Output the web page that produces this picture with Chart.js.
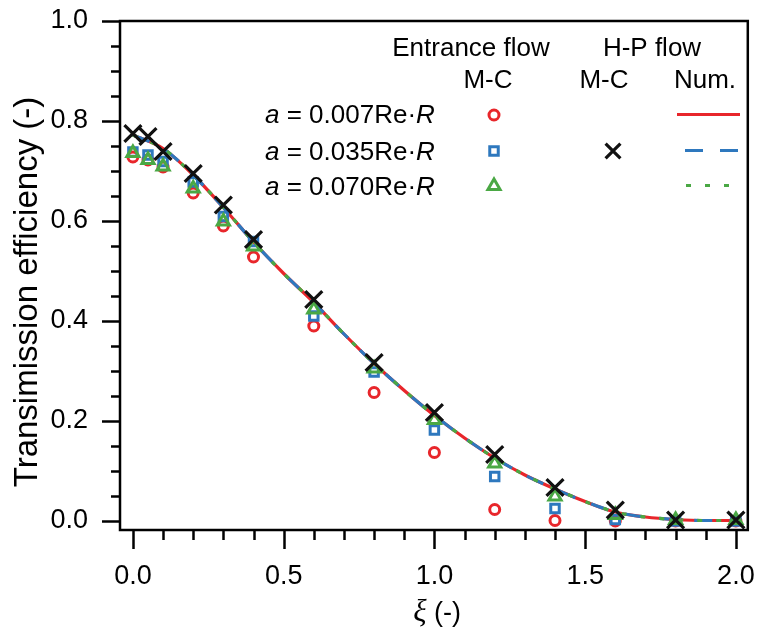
<!DOCTYPE html>
<html>
<head>
<meta charset="utf-8">
<script src="https://cdn.jsdelivr.net/npm/chart.js@4.4.1/dist/chart.umd.min.js"></script>
<style>
  html, body { margin: 0; padding: 0; background: #fff; }
  #grafico { display: block; }
</style>
</head>
<body>
<canvas id="grafico" width="763" height="632"></canvas>
<script>
// pontos Monte-Carlo (xi)
var xMC = [0, 0.05, 0.1, 0.2, 0.3, 0.4, 0.6, 0.8, 1.0, 1.2, 1.4, 1.6, 1.8, 2.0];
var mcEntrada007 = [0.728, 0.722, 0.708, 0.656, 0.590, 0.528, 0.390, 0.257, 0.137, 0.023, 0.001, 0.0, 0.0, 0.0];
var mcEntrada035 = [0.738, 0.732, 0.719, 0.678, 0.609, 0.559, 0.410, 0.298, 0.182, 0.089, 0.025, 0.003, 0.0, 0.0];
var mcEntrada070 = [0.736, 0.722, 0.709, 0.665, 0.599, 0.549, 0.423, 0.305, 0.202, 0.115, 0.049, 0.012, 0.002, 0.002];
var mcHP = [0.775, 0.769, 0.739, 0.695, 0.632, 0.563, 0.443, 0.317, 0.217, 0.133, 0.067, 0.022, 0.002, 0.002];

// curvas numericas (H-P flow)
var xNum = [0, 0.1, 0.2, 0.3, 0.4, 0.5, 0.6, 0.7, 0.8, 0.9, 1.0, 1.1, 1.2, 1.3, 1.4, 1.5, 1.6, 1.7, 1.8, 1.9, 2.0];
var num007 = [0.772, 0.745, 0.692, 0.627, 0.558, 0.495, 0.437, 0.374, 0.315, 0.261, 0.211, 0.166, 0.126, 0.092, 0.064, 0.039, 0.018, 0.008, 0.003, 0.001, 0.001];
var num035 = [0.772, 0.745, 0.692, 0.627, 0.558, 0.495, 0.437, 0.374, 0.315, 0.261, 0.211, 0.166, 0.126, 0.092, 0.064, 0.039, 0.018, 0.008, 0.003, 0.001, 0.001];
var num070 = [0.772, 0.745, 0.692, 0.627, 0.558, 0.495, 0.437, 0.374, 0.315, 0.261, 0.211, 0.166, 0.126, 0.092, 0.064, 0.039, 0.018, 0.008, 0.003, 0.001, 0.001];

var xTicks = [0, 0.5, 1.0, 1.5, 2.0];
var yTicks = [0, 0.2, 0.4, 0.6, 0.8, 1.0];

var VERMELHO = '#e8262b';
var AZUL = '#2e78be';
var VERDE = '#4aa844';
var PRETO = '#111111';
var FONTE = '"Liberation Sans", Arial, sans-serif';

function pares(xs, ys) {
    return xs.map(function(x, i) { return { x: x, y: ys[i] }; });
}

function escreve(ctx, partes, x, y, alinhamento) {
    var total = 0;
    partes.forEach(function(p) { ctx.font = p[1]; total += ctx.measureText(p[0]).width; });
    var inicio = x;
    if (alinhamento === 'center') inicio = x - total / 2;
    ctx.textAlign = 'left';
    partes.forEach(function(p) {
        ctx.font = p[1];
        ctx.fillText(p[0], inicio, y);
        inicio += ctx.measureText(p[0]).width;
    });
}

var moldura = {
    id: 'moldura',
    afterDraw: function(chart) {
        var ctx = chart.ctx;
        var a = chart.chartArea;
        var sx = chart.scales.x, sy = chart.scales.y;
        ctx.save();
        ctx.strokeStyle = '#000';
        ctx.lineWidth = 2.5;
        ctx.strokeRect(a.left, a.top, a.right - a.left, a.bottom - a.top);

        // marcas do eixo y
        for (var i = 0; i <= 20; i++) {
            var py = Math.round(sy.getPixelForValue(i * 0.05)) + 0.5;
            var maior = (i % 4 === 0);
            ctx.beginPath();
            ctx.moveTo(a.left, py);
            ctx.lineTo(a.left - (maior ? 18 : 9), py);
            ctx.stroke();
        }
        // marcas do eixo x
        for (var j = 0; j <= 20; j++) {
            var px = Math.round(sx.getPixelForValue(j * 0.1)) + 0.5;
            var maiorX = (j % 5 === 0);
            ctx.beginPath();
            ctx.moveTo(px, a.bottom);
            ctx.lineTo(px, a.bottom + (maiorX ? 19 : 10));
            ctx.stroke();
        }

        // titulos dos eixos
        ctx.fillStyle = '#000';
        ctx.textBaseline = 'alphabetic';
        ctx.save();
        ctx.translate(37, 292);
        ctx.rotate(-Math.PI / 2);
        ctx.font = '33px ' + FONTE;
        ctx.textAlign = 'center';
        ctx.fillText('Transimission efficiency (-)', 0, 0);
        ctx.restore();
        escreve(ctx, [['\u03BE', 'italic 31px "Liberation Serif", serif'], [' (-)', '27px ' + FONTE]], 437, 621, 'center');

        // legenda
        var f = '26px ' + FONTE;
        var fi = 'italic 26px ' + FONTE;
        ctx.font = f;
        ctx.textAlign = 'center';
        ctx.fillText('Entrance flow', 471, 56);
        ctx.fillText('H-P flow', 652, 56);
        ctx.fillText('M-C', 488, 88);
        ctx.fillText('M-C', 604, 88);
        ctx.fillText('Num.', 705, 88);
        var linhas = [['0.007', 123], ['0.035', 160], ['0.070', 195]];
        linhas.forEach(function(l) {
            escreve(ctx, [['a', fi], [' = ' + l[0] + 'Re\u00B7', f], ['R', fi]], 265, l[1], 'left');
        });

        var ajuda = Chart.helpers;
        ctx.lineWidth = 3;
        ctx.strokeStyle = VERMELHO; ctx.fillStyle = 'rgba(0,0,0,0)';
        ajuda.drawPoint(ctx, { pointStyle: 'circle', radius: 5, borderWidth: 3 }, 494, 115);
        ctx.strokeStyle = AZUL;
        ajuda.drawPoint(ctx, { pointStyle: 'rect', radius: 6, borderWidth: 3 }, 494, 151);
        ctx.strokeStyle = VERDE;
        ajuda.drawPoint(ctx, { pointStyle: 'triangle', radius: 7, borderWidth: 3 }, 494, 186);
        ctx.strokeStyle = PRETO; ctx.lineWidth = 3.2;
        ajuda.drawPoint(ctx, { pointStyle: 'crossRot', radius: 10.5, borderWidth: 3.2 }, 613, 151);

        ctx.lineWidth = 3;
        ctx.strokeStyle = VERMELHO;
        ctx.setLineDash([]);
        ctx.beginPath(); ctx.moveTo(677, 114.5); ctx.lineTo(740, 114.5); ctx.stroke();
        ctx.strokeStyle = AZUL;
        ctx.setLineDash([18, 17]);
        ctx.beginPath(); ctx.moveTo(685, 150.5); ctx.lineTo(740, 150.5); ctx.stroke();
        ctx.strokeStyle = VERDE;
        ctx.setLineDash([5, 14]);
        ctx.beginPath(); ctx.moveTo(686, 185.5); ctx.lineTo(740, 185.5); ctx.stroke();
        ctx.restore();
    }
};

function montarGrafico() {
    var ctx = document.getElementById('grafico');
    var grafico = new Chart(ctx, {
        type: 'scatter',
        data: {
            datasets: [{
                label: 'Num. 0.007',
                type: 'line',
                data: pares(xNum, num007),
                borderColor: VERMELHO,
                borderWidth: 3.2,
                pointRadius: 0,
                cubicInterpolationMode: 'monotone',
                fill: false,
                order: 6
            }, {
                label: 'Num. 0.035',
                type: 'line',
                data: pares(xNum, num035),
                borderColor: AZUL,
                borderWidth: 3.2,
                borderDash: [18, 17],
                pointRadius: 0,
                cubicInterpolationMode: 'monotone',
                fill: false,
                order: 5
            }, {
                label: 'Num. 0.070',
                type: 'line',
                data: pares(xNum, num070),
                borderColor: VERDE,
                borderWidth: 3.2,
                borderDash: [5, 14],
                pointRadius: 0,
                cubicInterpolationMode: 'monotone',
                fill: false,
                order: 4
            }, {
                label: 'M-C 0.007',
                data: pares(xMC, mcEntrada007),
                pointStyle: 'circle',
                pointRadius: 5,
                borderWidth: 3,
                borderColor: VERMELHO,
                backgroundColor: 'rgba(0,0,0,0)',
                order: 3
            }, {
                label: 'M-C 0.035',
                data: pares(xMC, mcEntrada035),
                pointStyle: 'rect',
                pointRadius: 6,
                borderWidth: 3,
                borderColor: AZUL,
                backgroundColor: 'rgba(0,0,0,0)',
                order: 2
            }, {
                label: 'M-C 0.070',
                data: pares(xMC, mcEntrada070),
                pointStyle: 'triangle',
                pointRadius: 7,
                borderWidth: 3,
                borderColor: VERDE,
                backgroundColor: 'rgba(0,0,0,0)',
                order: 1
            }, {
                label: 'H-P M-C',
                data: pares(xMC, mcHP),
                pointStyle: 'crossRot',
                pointRadius: 12,
                borderWidth: 3.2,
                borderColor: PRETO,
                order: 0
            }]
        },
        options: {
            responsive: false,
            animation: false,
            devicePixelRatio: 1,
            layout: { padding: { top: 21, right: 10, left: 0, bottom: 0 } },
            plugins: {
                legend: { display: false },
                tooltip: { enabled: false }
            },
            scales: {
                x: {
                    type: 'linear',
                    min: -0.0428,
                    max: 2.0395,
                    grid: { display: false },
                    border: { display: false },
                    afterBuildTicks: function(s) { s.ticks = xTicks.map(function(v) { return { value: v }; }); },
                    afterFit: function(s) { s.height = 102; s.paddingLeft = 0; s.paddingRight = 0; },
                    ticks: {
                        padding: 22,
                        color: '#000',
                        font: { family: FONTE, size: 27 },
                        maxRotation: 0,
                        callback: function(v) { return v.toFixed(1); }
                    }
                },
                y: {
                    type: 'linear',
                    min: -0.018,
                    max: 1.0,
                    grid: { display: false },
                    border: { display: false },
                    afterBuildTicks: function(s) { s.ticks = yTicks.map(function(v) { return { value: v }; }); },
                    afterFit: function(s) { s.width = 120; s.paddingTop = 0; s.paddingBottom = 0; },
                    ticks: {
                        padding: 24,
                        color: '#000',
                        font: { family: FONTE, size: 27 },
                        callback: function(v) { return v.toFixed(1); }
                    }
                }
            }
        },
        plugins: [moldura]
    });
}

montarGrafico();
</script>
</body>
</html>
